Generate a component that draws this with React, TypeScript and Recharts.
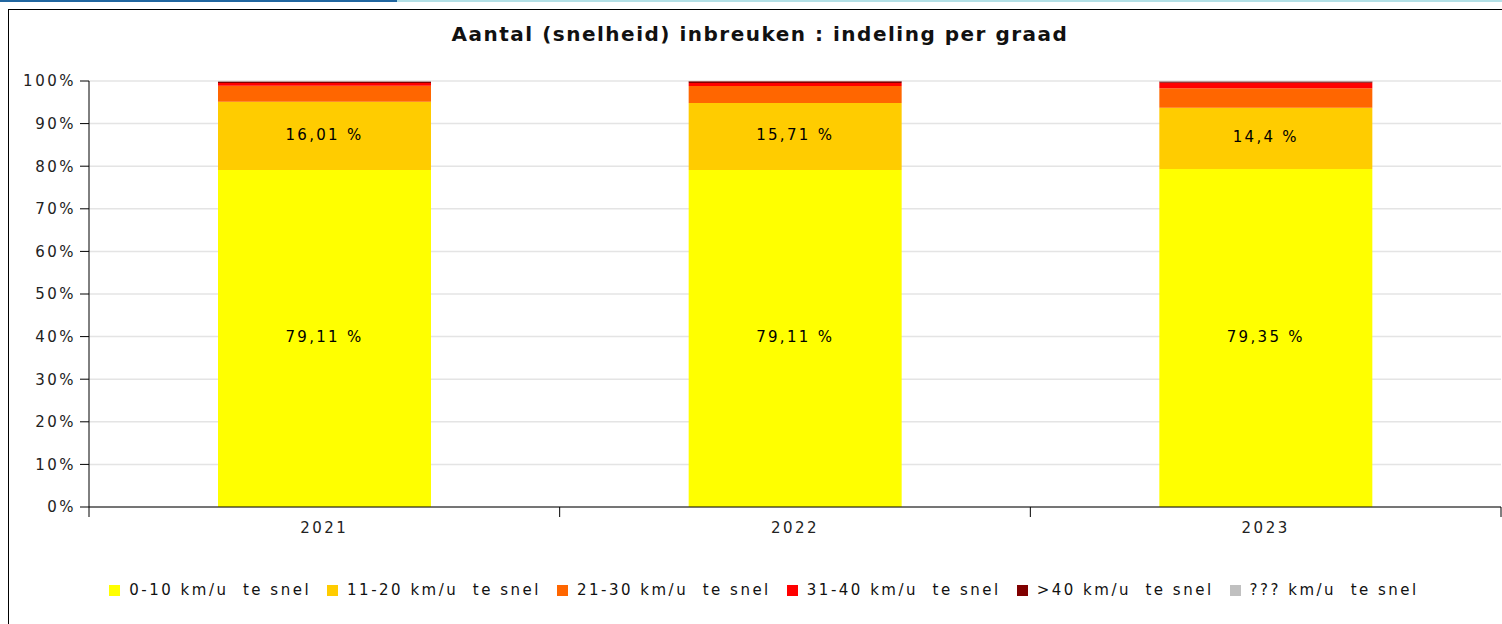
import React from 'react';
import { BarChart, Bar, XAxis, YAxis, CartesianGrid, LabelList } from 'recharts';

// Aandeel per graad van snelheidsovertreding (in %)
const years = ['2021', '2022', '2023'];
const speed0to10 = [79.11, 79.11, 79.35];
const speed11to20 = [16.01, 15.71, 14.4];
const speed21to30 = [3.78, 4.0, 4.55];
const speed31to40 = [0.62, 0.7, 1.3];
const speedOver40 = [0.38, 0.4, 0.3];
const speedUnknown = [0.1, 0.08, 0.1];
const yTicks = [0, 10, 20, 30, 40, 50, 60, 70, 80, 90, 100];

const series = [
  { key: 'a', name: '0-10 km/u  te snel', color: '#ffff00', values: speed0to10, label: true },
  { key: 'b', name: '11-20 km/u  te snel', color: '#ffcc00', values: speed11to20, label: true },
  { key: 'c', name: '21-30 km/u  te snel', color: '#ff6600', values: speed21to30, label: false },
  { key: 'd', name: '31-40 km/u  te snel', color: '#ff0000', values: speed31to40, label: false },
  { key: 'e', name: '>40 km/u  te snel', color: '#800000', values: speedOver40, label: false },
  { key: 'f', name: '??? km/u  te snel', color: '#c0c0c0', values: speedUnknown, label: false },
];

const data = years.map((year, i) => {
  const row: Record<string, string | number> = { year };
  series.forEach((s) => {
    row[s.key] = s.values[i];
  });
  return row;
});

const FONT = '"DejaVu Sans", sans-serif';

const formatPct = (v: any) => `${String(v).replace('.', ',')} %`;

const YearTick = (props: any) => {
  const { x, y, payload, index, visibleTicksCount } = props;
  const half = payload && typeof payload.offset === 'number' && payload.offset > 0 ? payload.offset : 235.3;
  const top = y - 14;
  const isLast = index === (visibleTicksCount ?? years.length) - 1;
  return (
    <g>
      <line x1={x - half} x2={x - half} y1={top} y2={top + 10} stroke="#000" />
      {isLast && <line x1={x + half} x2={x + half} y1={top} y2={top + 10} stroke="#000" />}
      <text x={x} y={y} dy={12} textAnchor="middle" fill="#222" fontSize={15} fontFamily={FONT} letterSpacing={2.5}>
        {payload.value}
      </text>
    </g>
  );
};

export default function App() {
  return (
    <div style={{ position: 'fixed', top: 0, left: 0, width: 1502, height: 624, overflow: 'hidden', background: '#fff' }}>
      <div style={{ position: 'absolute', top: 0, left: 0, width: 397, height: 2, background: '#2166a0' }} />
      <div style={{ position: 'absolute', top: 0, left: 397, width: 1105, height: 2, background: '#b3e0e6' }} />
      <div
        style={{
          position: 'absolute',
          top: 9,
          left: 8,
          width: 1600,
          height: 700,
          border: '1px solid #000',
          boxSizing: 'border-box',
        }}
      />
      <div
        style={{
          position: 'absolute',
          top: 22,
          left: 8,
          width: 1504,
          textAlign: 'center',
          fontFamily: FONT,
          fontWeight: 'bold',
          fontSize: 20,
          lineHeight: '24px',
          letterSpacing: 1.5,
          color: '#111',
        }}
      >
        Aantal (snelheid) inbreuken : indeling per graad
      </div>
      <div style={{ position: 'absolute', top: 0, left: 0 }}>
        <BarChart width={1502} height={624} data={data} margin={{ top: 81, right: 1, bottom: 87, left: 9 }}>
          <CartesianGrid vertical={false} stroke="#e4e4e4" strokeWidth={1.5} />
          <XAxis
            dataKey="year"
            height={30}
            axisLine={{ stroke: '#000' }}
            tickLine={false}
            tickSize={10}
            tickMargin={4}
            tick={<YearTick />}
            interval={0}
          />
          <YAxis
            width={80}
            domain={[0, 100]}
            ticks={yTicks}
            interval={0}
            tickFormatter={(v) => `${v}%`}
            axisLine={{ stroke: '#000' }}
            tickLine={{ stroke: '#000' }}
            tickSize={9}
            tickMargin={4}
            tick={{ fill: '#222', fontSize: 15, fontFamily: FONT, letterSpacing: 2.5 }}
          />
          {series.map((s) => (
            <Bar key={s.key} dataKey={s.key} name={s.name} stackId="s" fill={s.color} barSize={213} isAnimationActive={false}>
              {s.label && (
                <LabelList
                  dataKey={s.key}
                  position="center"
                  formatter={formatPct}
                  fill="#000"
                  fontSize={15}
                  fontFamily={FONT}
                  letterSpacing={2.3}
                  offset={0}
                  dy={-1.5}
                />
              )}
            </Bar>
          ))}
        </BarChart>
      </div>
      <div
        style={{
          position: 'absolute',
          top: 580,
          left: 12,
          width: 1504,
          display: 'flex',
          justifyContent: 'center',
          gap: 16,
          fontFamily: FONT,
          fontSize: 15,
          letterSpacing: 2.5,
          color: '#111',
          lineHeight: '20px',
        }}
      >
        {series.map((s) => (
          <div key={s.key} style={{ display: 'flex', alignItems: 'center' }}>
            <span style={{ display: 'inline-block', width: 11, height: 11, background: s.color, marginRight: 9 }} />
            <span style={{ whiteSpace: 'pre' }}>{s.name}</span>
          </div>
        ))}
      </div>
    </div>
  );
}
